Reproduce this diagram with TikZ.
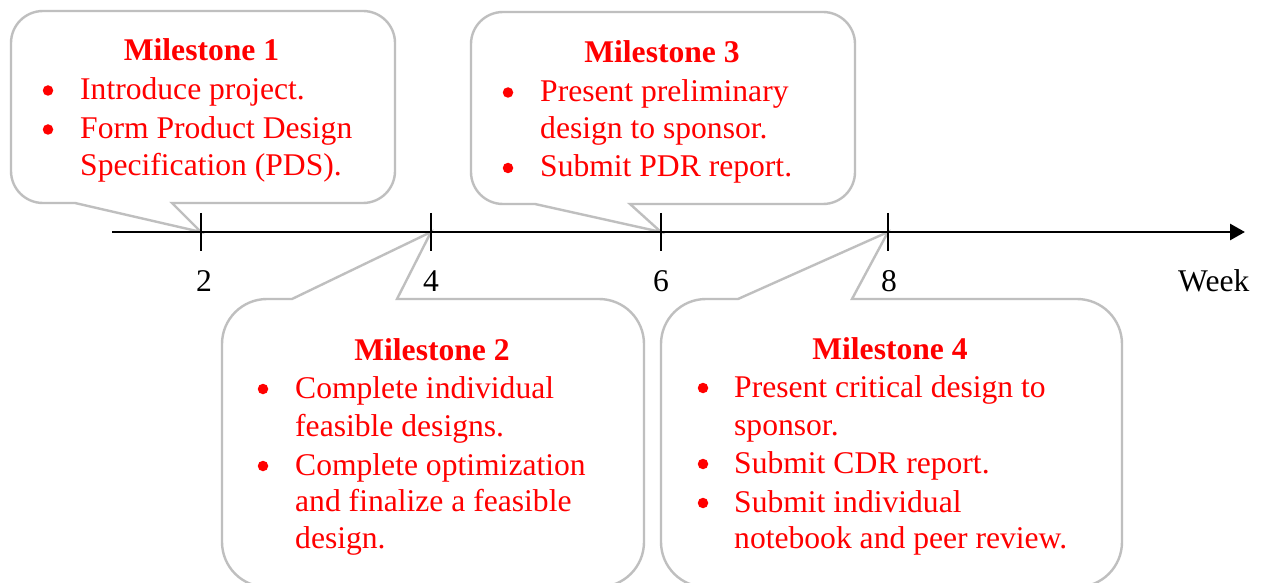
\documentclass[tikz,border=0pt]{standalone}
\usepackage{fontspec}
\setmainfont{Liberation Serif}
\usetikzlibrary{arrows.meta}

\definecolor{bubblegray}{RGB}{191,191,191}
\definecolor{msred}{RGB}{255,0,0}

% Rounded callout with its pointer on the bottom edge.
% #1 left, #2 top, #3 right, #4 bottom, #5 corner radius,
% #6/#7 pointer base x-range, #8 pointer tip coordinate
\newcommand\bubbleabove[8]{%
  \draw[bubble] (#8) -- (#6,#4) -- ({#1+#5},#4)
    arc[start angle=270,end angle=180,radius=#5] -- (#1,{#2-#5})
    arc[start angle=180,end angle=90,radius=#5] -- ({#3-#5},#2)
    arc[start angle=90,end angle=0,radius=#5] -- (#3,{#4+#5})
    arc[start angle=0,end angle=-90,radius=#5] -- (#7,#4) -- cycle;}

% Rounded callout with its pointer on the top edge.
\newcommand\bubblebelow[8]{%
  \draw[bubble] (#8) -- (#7,#2) -- ({#3-#5},#2)
    arc[start angle=90,end angle=0,radius=#5] -- (#3,{#4+#5})
    arc[start angle=0,end angle=-90,radius=#5] -- ({#1+#5},#4)
    arc[start angle=270,end angle=180,radius=#5] -- (#1,{#2-#5})
    arc[start angle=180,end angle=90,radius=#5] -- (#6,#2) -- cycle;}

\begin{document}
\begin{tikzpicture}[x=1pt,y=1pt,
  bubble/.style={draw=bubblegray,line width=2.4pt,fill=white,line join=miter},
  axisline/.style={line width=2.8pt,-{Triangle[length=15pt,width=16pt]}},
  tickmark/.style={line width=1.3pt},
  txt/.style={inner sep=0pt,font=\fontsize{31.6}{37}\selectfont},
  head/.style={txt,text=msred,font=\fontsize{31.6}{37}\selectfont\bfseries,anchor=base},
  item/.style={txt,text=msred,anchor=base west},
  weeklabel/.style={txt,anchor=base},
  dot/.style={circle,fill=msred,inner sep=0pt,minimum size=10.5pt}]

\clip (0,0) rectangle (1262,-583);
\fill[white] (0,0) rectangle (1262,-583);

% week positions on the time axis
\coordinate (w2) at (201,-232);
\coordinate (w4) at (431,-232);
\coordinate (w6) at (661,-232);
\coordinate (w8) at (888,-232);
\coordinate (axstart) at (112,-232);
\coordinate (axend) at (1245,-232);

% callouts
\bubbleabove{11}{-11}{395}{-203}{32}{75}{172}{w2}
\bubbleabove{471}{-12}{855}{-204}{32}{535}{630}{w6}
\bubblebelow{222}{-299}{644}{-587}{45}{292}{397}{w4}
\bubblebelow{661}{-299}{1122}{-587}{45}{738}{852}{w8}

% time axis
\draw[axisline] (axstart) -- (axend);
\foreach \w in {w2,w4,w6,w8}
  \draw[tickmark] ([yshift=19pt]\w) -- ([yshift=-19pt]\w);

\node[weeklabel] (l2) at (204,-291) {2};
\node[weeklabel] (l4) at (431,-291) {4};
\node[weeklabel] (l6) at (661,-291) {6};
\node[weeklabel] (l8) at (889,-291) {8};
\node[txt,anchor=base west] (week) at (1178,-291) {Week};

% Milestone 1
\node[head] (h1) at (201.5,-61) {Milestone 1};
\node[dot] (d1a) at (48,-90.5) {};
\node[item] (t1a) at (80,-99.5) {Introduce project.};
\node[dot] (d1b) at (48,-129.5) {};
\node[item] (t1b) at (80,-138.5) {Form Product Design};
\node[item] (t1c) at (80,-175.5) {Specification (PDS).};

% Milestone 3
\node[head] (h3) at (662,-62.5) {Milestone 3};
\node[dot] (d3a) at (508,-92.5) {};
\node[item] (t3a) at (540,-101.5) {Present preliminary};
\node[item] (t3b) at (540,-138.5) {design to sponsor.};
\node[dot] (d3b) at (508,-168) {};
\node[item] (t3c) at (540,-176.5) {Submit PDR report.};

% Milestone 2
\node[head] (h2) at (432,-360) {Milestone 2};
\node[dot] (d2a) at (263,-389) {};
\node[item] (t2a) at (295,-398) {Complete individual};
\node[item] (t2b) at (295,-436) {feasible designs.};
\node[dot] (d2b) at (263,-466) {};
\node[item] (t2c) at (295,-475) {Complete optimization};
\node[item] (t2d) at (295,-511.5) {and finalize a feasible};
\node[item] (t2e) at (295,-548.5) {design.};

% Milestone 4
\node[head] (h4) at (890,-359) {Milestone 4};
\node[dot] (d4a) at (703,-388) {};
\node[item] (t4a) at (734,-397) {Present critical design to};
\node[item] (t4b) at (734,-435) {sponsor.};
\node[dot] (d4b) at (703,-464) {};
\node[item] (t4c) at (734,-473) {Submit CDR report.};
\node[dot] (d4c) at (703,-503) {};
\node[item] (t4d) at (734,-512) {Submit individual};
\node[item] (t4e) at (734,-548.5) {notebook and peer review.};

\end{tikzpicture}
\end{document}
